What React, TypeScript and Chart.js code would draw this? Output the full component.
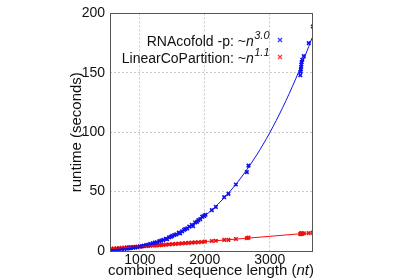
import React, { useEffect, useRef } from "react";
import { Chart, registerables } from "chart.js";
Chart.register(...registerables);

const xTicks = [1000, 2000, 3000];
const yTicks = [0, 50, 100, 150, 200];

const rnaX = [560, 600, 640, 680, 720, 760, 800, 830, 860, 900, 930, 960, 1000, 1030, 1060, 1100, 1130, 1160, 1200, 1230, 1260, 1300, 1330, 1360, 1400, 1420, 1450, 1480, 1500, 1530, 1560, 1600, 1620, 1650, 1680, 1700, 1730, 1760, 1800, 1820, 1850, 1880, 1900, 1930, 1960, 1990, 2010, 2108, 2170, 2298, 2364, 2478, 2647, 2672, 3470, 3475, 3480, 3483, 3486, 3490, 3500, 3524, 3600, 3664];
const rnaY = [0.7, 0.9, 1.1, 1.3, 1.5, 1.7, 2.0, 2.3, 2.4, 2.8, 3.0, 3.3, 3.8, 4.0, 4.5, 5.0, 5.2, 6.0, 6.5, 7.0, 7.4, 8.3, 8.8, 9.3, 10.3, 10.0, 11.5, 12.0, 12.8, 13.5, 14.0, 15.5, 14.8, 16.5, 17.8, 18.5, 19.0, 20.5, 22.0, 21.0, 24.0, 24.5, 26.0, 26.8, 28.9, 29.5, 30.5, 34.4, 37.1, 45.3, 48.1, 56.0, 66.4, 71.9, 148, 151, 153, 155, 157, 159, 161, 164, 175, 189];

const lcpX = [560, 600, 640, 680, 720, 760, 800, 830, 860, 900, 930, 960, 1000, 1030, 1060, 1100, 1130, 1160, 1200, 1230, 1260, 1300, 1330, 1360, 1400, 1450, 1500, 1550, 1600, 1650, 1700, 1750, 1800, 1850, 1900, 1950, 2000, 2108, 2170, 2298, 2364, 2478, 2647, 2672, 3470, 3475, 3480, 3485, 3490, 3500, 3524, 3600, 3664];
const lcpY = [2.0, 2.1, 2.3, 2.5, 2.6, 2.8, 3.0, 3.1, 3.2, 3.4, 3.5, 3.6, 3.7, 3.9, 4.0, 4.2, 4.3, 4.4, 4.6, 4.7, 4.8, 5.0, 5.1, 5.2, 5.4, 5.6, 5.8, 6.0, 6.2, 6.4, 6.6, 6.8, 7.1, 7.2, 7.4, 7.6, 7.9, 8.4, 8.6, 9.3, 9.4, 10.1, 10.8, 11.2, 14.2, 14.5, 14.8, 14.3, 14.9, 14.6, 14.8, 15.1, 15.4];

const rnaFitX = [540, 800, 1000, 1200, 1400, 1600, 1800, 2000, 2200, 2400, 2600, 2800, 3000, 3200, 3400, 3600, 3650];
const rnaFitY = [0.58, 1.9, 3.7, 6.4, 10.1, 15.1, 21.5, 29.5, 39.3, 51.0, 64.8, 81.0, 99.6, 120.9, 145.0, 172.1, 179.3];
const lcpFitX = [540, 1000, 1500, 2000, 2500, 3000, 3650];
const lcpFitY = [1.87, 3.69, 5.77, 7.91, 10.1, 12.36, 15.33];

const legendRows = [
  { label: "RNAcofold -p: ~", sup: "3.0", color: "#3333ff" },
  { label: "LinearCoPartition: ~", sup: "1.1", color: "#ff3333" },
];

const BLUE = "#1010ee";
const RED = "#ee1010";
const FONT = "'Liberation Sans', Arial, sans-serif";

const pts = (xs: number[], ys: number[]) => xs.map((x, i) => ({ x, y: ys[i] }));

const overlay = {
  id: "overlay",
  afterDraw(chart: any) {
    const ctx = chart.ctx;
    const a = chart.chartArea;
    ctx.save();
    ctx.strokeStyle = "#555";
    ctx.lineWidth = 1;
    ctx.strokeRect(Math.round(a.left) + 0.5, Math.round(a.top) + 0.5, Math.round(a.right - a.left), Math.round(a.bottom - a.top));

    // axis titles
    ctx.fillStyle = "#111";
    ctx.textBaseline = "middle";
    ctx.font = `15px ${FONT}`;
    const p1 = "combined sequence length (";
    const p2 = "nt";
    const p3 = ")";
    const w1 = ctx.measureText(p1).width;
    const w3 = ctx.measureText(p3).width;
    ctx.font = `italic 15px ${FONT}`;
    const w2 = ctx.measureText(p2).width;
    const total = w1 + w2 + w3;
    const cx = (a.left + a.right) / 2;
    const x = cx - total / 2;
    const ty = 271;
    ctx.textAlign = "left";
    ctx.font = `15px ${FONT}`;
    ctx.fillText(p1, x, ty);
    ctx.font = `italic 15px ${FONT}`;
    ctx.fillText(p2, x + w1, ty);
    ctx.font = `15px ${FONT}`;
    ctx.fillText(p3, x + w1 + w2, ty);

    ctx.save();
    ctx.translate(77, (a.top + a.bottom) / 2);
    ctx.rotate(-Math.PI / 2);
    ctx.textAlign = "center";
    ctx.fillText("runtime (seconds)", 0, 0);
    ctx.restore();

    // legend
    const rightX = 269;
    legendRows.forEach((r, i) => {
      const cy = 42 + i * 17;
      ctx.font = `italic 11px ${FONT}`;
      const ws = ctx.measureText(r.sup).width;
      ctx.font = `italic 14px ${FONT}`;
      const wn = ctx.measureText("n").width;
      ctx.font = `14px ${FONT}`;
      const wl = ctx.measureText(r.label).width;
      const sx = rightX - ws - wn - wl;
      ctx.textAlign = "left";
      ctx.fillStyle = "#111";
      ctx.fillText(r.label, sx, cy);
      ctx.font = `italic 14px ${FONT}`;
      ctx.fillText("n", sx + wl, cy);
      ctx.font = `italic 11px ${FONT}`;
      ctx.fillText(r.sup, sx + wl + wn + 0.5, cy - 6);
      // marker
      ctx.strokeStyle = r.color;
      ctx.lineWidth = 1.2;
      const mx = 280, my = cy - 2;
      ctx.beginPath();
      ctx.moveTo(mx - 2, my - 2);
      ctx.lineTo(mx + 2, my + 2);
      ctx.moveTo(mx + 2, my - 2);
      ctx.lineTo(mx - 2, my + 2);
      ctx.stroke();
    });
    ctx.restore();
  },
};

export default function App() {
  const ref = useRef<HTMLCanvasElement | null>(null);
  useEffect(() => {
    if (!ref.current) return;
    const gridOpts: any = {
      color: "#c8c8c8",
      lineWidth: 1,
      drawTicks: false,
    };
    const borderOpts: any = { display: false, dash: [2, 2] };
    const chart = new Chart(ref.current, {
      type: "scatter",
      data: {
        datasets: [
          {
            label: "RNAcofold fit",
            data: pts(rnaFitX, rnaFitY),
            showLine: true,
            borderColor: BLUE,
            borderWidth: 1,
            pointRadius: 0,
            cubicInterpolationMode: "monotone",
          } as any,
          {
            label: "LinearCoPartition fit",
            data: pts(lcpFitX, lcpFitY),
            showLine: true,
            borderColor: RED,
            borderWidth: 1,
            pointRadius: 0,
            cubicInterpolationMode: "monotone",
          } as any,
          {
            label: "RNAcofold -p",
            data: pts(rnaX, rnaY),
            pointStyle: "crossRot",
            pointRadius: 2.5,
            borderColor: BLUE,
            backgroundColor: BLUE,
            borderWidth: 1.6,
          },
          {
            label: "LinearCoPartition",
            data: pts(lcpX, lcpY),
            pointStyle: "crossRot",
            pointRadius: 2.5,
            borderColor: RED,
            backgroundColor: RED,
            borderWidth: 1.6,
          },
        ],
      },
      options: {
        responsive: false,
        animation: false,
        layout: { padding: { left: 0, right: 87, top: 8, bottom: 0 } },
        plugins: { legend: { display: false }, tooltip: { enabled: false } },
        scales: {
          x: {
            type: "linear",
            min: 540,
            max: 3650,
            afterBuildTicks: (s: any) => {
              s.ticks = xTicks.map((v) => ({ value: v }));
            },
            afterFit: (s: any) => {
              s.height = 28;
            },
            grid: gridOpts,
            border: borderOpts,
            ticks: {
              color: "#111",
              font: { size: 14, family: FONT },
              padding: 1,
              maxRotation: 0,
              callback: (v: any) => String(v),
            },
          },
          y: {
            type: "linear",
            min: 0,
            max: 200,
            afterBuildTicks: (s: any) => {
              s.ticks = yTicks.map((v) => ({ value: v }));
            },
            afterFit: (s: any) => {
              s.width = 110;
            },
            grid: gridOpts,
            border: borderOpts,
            ticks: {
              color: "#111",
              font: { size: 14, family: FONT },
              padding: 5,
              callback: (v: any) => String(v),
            },
          },
        },
      },
      plugins: [overlay],
    });
    return () => chart.destroy();
  }, []);
  return (
    <div style={{ position: "fixed", left: 0, top: 0, width: 399, height: 279, background: "#fff" }}>
      <canvas ref={ref} width={399} height={279} style={{ width: 399, height: 279 }} />
    </div>
  );
}
